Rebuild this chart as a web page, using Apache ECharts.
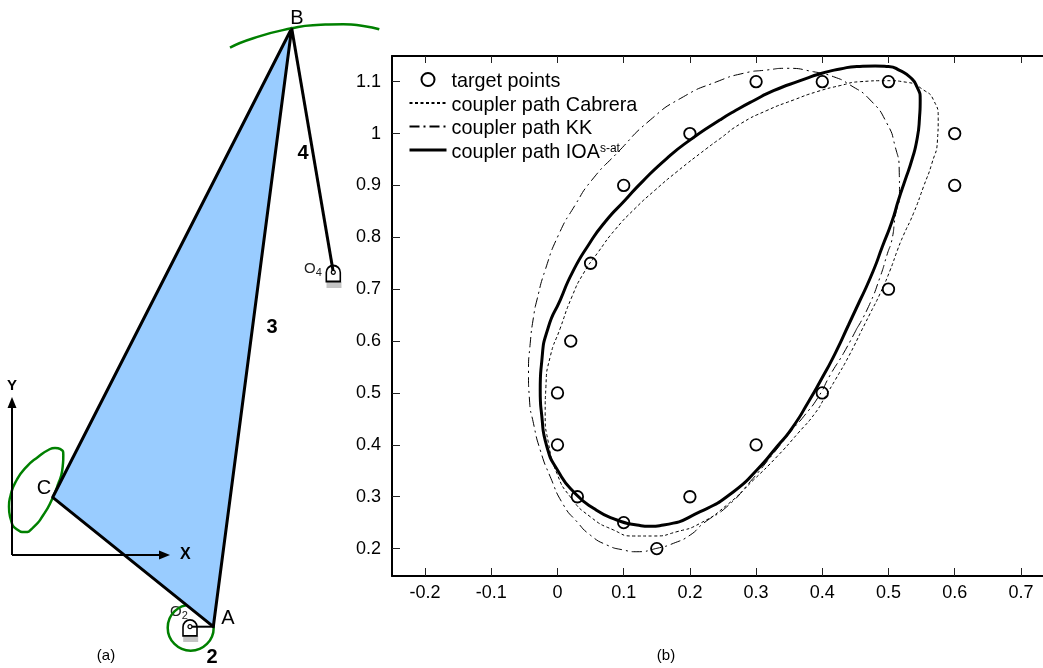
<!DOCTYPE html>
<html>
<head>
<meta charset="utf-8">
<style>html,body{margin:0;padding:0;background:#fff}#c{width:1043px;height:668px}</style>
<script src="https://cdn.jsdelivr.net/npm/echarts@6/dist/echarts.min.js"></script>
</head>
<body>
<div id="c"></div>
<script>
// ---- panel (b) data
const xTicks = [-0.2,-0.1,0,0.1,0.2,0.3,0.4,0.5,0.6,0.7];
const yTicks = [0.2,0.3,0.4,0.5,0.6,0.7,0.8,0.9,1,1.1];
const targetPoints = [[0,.4],[0,.5],[.02,.6],[.05,.75],[.1,.9],[.2,1],[.3,1.1],[.4,1.1],[.5,1.1],[.6,1],[.6,.9],[.5,.7],[.4,.5],[.3,.4],[.2,.3],[.15,.2],[.1,.25],[.03,.3]];
const pathIOA = [[.4572,.6792],[.4396,.631],[.4195,.5764],[.3994,.5283],[.3792,.483],[.3541,.4319],[.3314,.3964],[.3012,.3515],[.2659,.3097],[.2156,.2711],[.1601,.2455],[.14,.243],[.1199,.2455],[.0897,.2551],[.0544,.2777],[.0242,.3097],[.0015,.3482],[-.016,.3964],[-.0236,.4542],[-.0261,.5057],[-.0236,.5635],[-.0136,.6277],[.0041,.679],[.0218,.7306],[.0468,.7852],[.0721,.8301],[.1023,.8719],[.1275,.9065],[.1653,.9523],[.2005,.9878],[.2457,1.0265],[.2659,1.0421],[.2961,1.0633],[.3263,1.0826],[.3666,1.1019],[.3994,1.1162],[.427,1.1244],[.4523,1.1293],[.4799,1.1302],[.5,1.1293],[.5177,1.1212],[.5328,1.1085],[.5429,1.0903],[.5479,1.0647],[.5468,1.0294],[.5429,.9876],[.5353,.949],[.5252,.9105],[.5151,.8719],[.5051,.8301],[.4905,.7813],[.4769,.7351],[.4572,.6792]];
const pathCabrera = [[.4572,.615],[.4396,.5699],[.4195,.525],[.4044,.4928],[.3893,.4614],[.3636,.4228],[.3314,.3771],[.2961,.3322],[.2559,.284],[.2156,.2488],[.1804,.2326],[.145,.2243],[.1148,.2243],[.0846,.2359],[.0494,.2615],[.0192,.3],[-.0009,.3451],[-.0136,.403],[-.0186,.4608],[-.0175,.5121],[-.011,.5699],[.0041,.6246],[.0218,.6855],[.0393,.7306],[.0619,.7723],[.0872,.815],[.1174,.8559],[.1476,.8912],[.1804,.9265],[.2257,.9716],[.2458,.9905],[.276,1.0185],[.3163,1.0445],[.3565,1.0647],[.3918,1.0807],[.427,1.0925],[.4572,1.1],[.4976,1.1019],[.5278,1.0988],[.5529,1.084],[.568,1.0647],[.5751,1.0294],[.574,.9876],[.5656,.9427],[.5529,.8976],[.5378,.8463],[.5221,.8025],[.5136,.7756],[.5026,.737],[.4875,.6921],[.4724,.6535],[.4572,.615]];
const pathKK = [[.4523,.6246],[.432,.5764],[.4119,.5346],[.3943,.4928],[.3716,.4542],[.3565,.4319],[.3263,.3837],[.2911,.329],[.2559,.2808],[.2205,.2488],[.2005,.2262],[.1752,.2102],[.1502,.2006],[.1199,.194],[.0997,.1973],[.0746,.2069],[.0494,.2262],[.0293,.2519],[.0091,.284],[-.011,.3386],[-.0261,.39],[-.0363,.4415],[-.0423,.4864],[-.0438,.5379],[-.0412,.5957],[-.036,.6483],[-.0311,.6791],[-.0186,.737],[.0015,.8045],[.0267,.8623],[.052,.9105],[.0897,.962],[.14,1.0261],[.1903,1.071],[.2408,1.1],[.281,1.1162],[.3163,1.1225],[.3465,1.1258],[.3867,1.1192],[.4169,1.1096],[.4421,1.0936],[.4724,1.0647],[.4976,1.0198],[.5101,.9747],[.5162,.9298],[.5166,.8849],[.5101,.8398],[.5051,.7948],[.4985,.7692],[.4875,.7241],[.4698,.6663],[.4523,.6246]];
// ---- panel (a) data, mechanism units with origin at the X/Y axes
const triangleABC = [[40.7,57.7],[279.7,526.7],[201.3,-71.7]];
const linkBO4 = [[279.7,526.7],[321.3,282.7]];
const linkAO2 = [[201.3,-71.7],[178,-71.7]];
const curveC = [[46.3,71.7],[39.7,55],[31.3,40],[21.3,27.7],[13,23],[4.7,25.7],[-1,35],[-3,48.3],[-1.3,60],[4.7,75],[14.7,88.3],[26.3,98.3],[36.3,105],[43,107],[48.7,105.7],[51.3,100],[50.7,88.3],[46.3,71.7]];
const curveB = [[218,507.3],[241.3,516.7],[279.7,526.7],[304.7,530],[331.3,530.7],[351.3,529],[367.3,525.7]];
const crankCircle = [[178.7,-72.7]];
const pivots = [[178,-71.7],[321.3,282.7]];
const pivotBases = [[178.7,-84],[322,270]];
const axisX = [[0,0],[152.5,0]];
const axisY = [[0,0],[0,152.5]];

const leftAxisOff = {show:false};
const black = '#000';
const FF = '"Liberation Sans", Arial, sans-serif';
const pinPath = 'path://M0,16 L0,7 A7,7 0 0 1 14,7 L14,16 Z';
const lbl = (x,y,text,size,bold,rich) => ({type:'text',x,y,silent:true,style:{text,fill:black,font:(bold?'bold ':'')+size+'px '+FF,textAlign:'center',textVerticalAlign:'middle',rich}});
const subRich = {o:{font:'15px '+FF,fill:'#222'},s:{font:'11px '+FF,fill:'#222',padding:[7,0,0,0]}};

const arrowSeries = (pts,rot,text,pos,dist,size) => ({type:'line',xAxisIndex:0,yAxisIndex:0,silent:true,z:2,
  lineStyle:{color:black,width:2},itemStyle:{color:black},
  data:[{value:pts[0],symbol:'none',label:{show:false}},
        {value:pts[1],symbol:'triangle',symbolSize:[9,11],symbolRotate:rot,
         label:{show:true,formatter:text,position:pos,distance:dist,color:black,fontWeight:'bold',fontSize:size,fontFamily:FF}}]});
const curve = {smooth:0.6,smoothConstraint:false,symbol:'none'};

const chart = echarts.init(document.getElementById('c'),null,{renderer:'canvas'});
chart.setOption({
  animation:false,
  backgroundColor:'#fff',
  textStyle:{fontFamily:FF},
  grid:[
    {left:0,top:0,width:390,height:668},
    {left:392,right:0,top:56,bottom:92}
  ],
  xAxis:[
    {gridIndex:0,type:'value',min:-12,max:378,...leftAxisOff},
    {gridIndex:1,type:'value',position:'bottom',min:-0.25,max:0.7334,
      axisLine:{show:true,onZero:false,lineStyle:{color:black,width:2}},
      axisTick:{show:true,inside:true,length:8,lineStyle:{color:'#222',width:1},customValues:xTicks},
      axisLabel:{color:black,fontSize:18,margin:8,customValues:xTicks,formatter:v=>String(+(+v).toFixed(1))},
      splitLine:{show:false}},
    {gridIndex:1,type:'value',position:'top',min:-0.25,max:0.7334,
      axisLine:{show:true,onZero:false,lineStyle:{color:black,width:2}},
      axisTick:{show:true,inside:true,length:7,lineStyle:{color:'#222',width:1},customValues:xTicks},
      axisLabel:{show:false},splitLine:{show:false}}
  ],
  yAxis:[
    {gridIndex:0,type:'value',min:-113,max:555,...leftAxisOff},
    {gridIndex:1,type:'value',position:'left',min:0.1472,max:1.1495,
      axisLine:{show:true,onZero:false,lineStyle:{color:black,width:2}},
      axisTick:{show:true,inside:true,length:8,lineStyle:{color:'#222',width:1},customValues:yTicks},
      axisLabel:{color:black,fontSize:18,margin:11,customValues:yTicks,formatter:v=>String(+(+v).toFixed(1))},
      splitLine:{show:false}}
  ],
  legend:{
    show:true,orient:'vertical',left:408,top:72,itemWidth:37,itemHeight:13,itemGap:3.5,padding:0,
    selectedMode:false,
    data:[{name:'target points'},
          {name:'coupler path Cabrera',itemStyle:{opacity:0}},
          {name:'coupler path KK',itemStyle:{opacity:0}},
          {name:'coupler path IOA^s-at',itemStyle:{opacity:0},lineStyle:{width:3}}],
    formatter:n=>n.indexOf('^')>0?'{b|coupler path IOA}{s|s-at}':n,
    textStyle:{color:black,fontSize:19.8,padding:[5,0,0,0],
      rich:{b:{fontSize:19.8,color:black},s:{fontSize:12,color:black,padding:[0,0,7,0]}}}
  },
  series:[
    // panel (a)
    {type:'scatter',xAxisIndex:0,yAxisIndex:0,silent:true,z:1,data:crankCircle,symbol:'circle',symbolSize:46,
      itemStyle:{color:'rgba(0,0,0,0)',borderColor:'#008000',borderWidth:2.5,opacity:1}},
    {type:'custom',xAxisIndex:0,yAxisIndex:0,silent:true,z:2,data:triangleABC,
      renderItem:(p,api)=>{
        if(p.dataIndex!==0) return null;
        return {type:'polygon',shape:{points:triangleABC.map(d=>api.coord(d))},
          style:{fill:'#99ccff',stroke:black,lineWidth:3,lineJoin:'round'}};
      }},
    {type:'line',xAxisIndex:0,yAxisIndex:0,silent:true,z:1,data:curveC,...curve,lineStyle:{color:'#008000',width:2.5}},
    {type:'line',xAxisIndex:0,yAxisIndex:0,silent:true,z:3,data:curveB,...curve,lineStyle:{color:'#008000',width:2.5}},
    {type:'scatter',xAxisIndex:0,yAxisIndex:0,silent:true,z:3,data:pivotBases,symbol:'rect',symbolSize:[15,6],itemStyle:{color:'#c4c4c4',opacity:1}},
    {type:'scatter',xAxisIndex:0,yAxisIndex:0,silent:true,z:3,data:pivots,symbol:pinPath,symbolSize:[14,16],symbolOffset:[0,1.2],
      itemStyle:{color:'#fff',borderColor:black,borderWidth:1.7,opacity:1}},
    {type:'line',xAxisIndex:0,yAxisIndex:0,silent:true,z:4,data:linkBO4,symbol:'none',lineStyle:{color:black,width:3}},
    {type:'line',xAxisIndex:0,yAxisIndex:0,silent:true,z:5,data:linkAO2,symbol:'none',lineStyle:{color:black,width:2}},
    {type:'scatter',xAxisIndex:0,yAxisIndex:0,silent:true,z:6,data:pivots,symbol:'circle',symbolSize:4,
      itemStyle:{color:'#fff',borderColor:black,borderWidth:1.2,opacity:1}},
    arrowSeries(axisX,-90,'X','right',10,16),
    arrowSeries(axisY,0,'Y','top',4,15),
    // panel (b)
    {name:'target points',type:'scatter',xAxisIndex:1,yAxisIndex:1,z:5,data:targetPoints,symbol:'circle',symbolSize:11.5,
      itemStyle:{color:'rgba(0,0,0,0)',borderColor:black,borderWidth:1.8,opacity:1}},
    {name:'coupler path Cabrera',type:'line',xAxisIndex:1,yAxisIndex:1,z:3,data:pathCabrera,...curve,
      itemStyle:{color:black},lineStyle:{color:black,width:1,type:[3,2.5]}},
    {name:'coupler path KK',type:'line',xAxisIndex:1,yAxisIndex:1,z:3,data:pathKK,...curve,
      itemStyle:{color:black},lineStyle:{color:black,width:1,type:[10,4,2,4]}},
    {name:'coupler path IOA^s-at',type:'line',xAxisIndex:1,yAxisIndex:1,z:4,data:pathIOA,...curve,
      itemStyle:{color:black},lineStyle:{color:black,width:3}}
  ],
  graphic:[
    lbl(297,18,'B',20),
    lbl(44,488,'C',20),
    lbl(228,618,'A',20),
    lbl(179,612,'{o|O}{s|2}',15,false,subRich),
    lbl(313,269,'{o|O}{s|4}',15,false,subRich),
    lbl(303,153,'4',20,true),
    lbl(272,327,'3',20,true),
    lbl(212,657,'2',20,true),
    lbl(106,656,'(a)',15),
    lbl(666,656,'(b)',15)
  ]
});
</script>
</body>
</html>
